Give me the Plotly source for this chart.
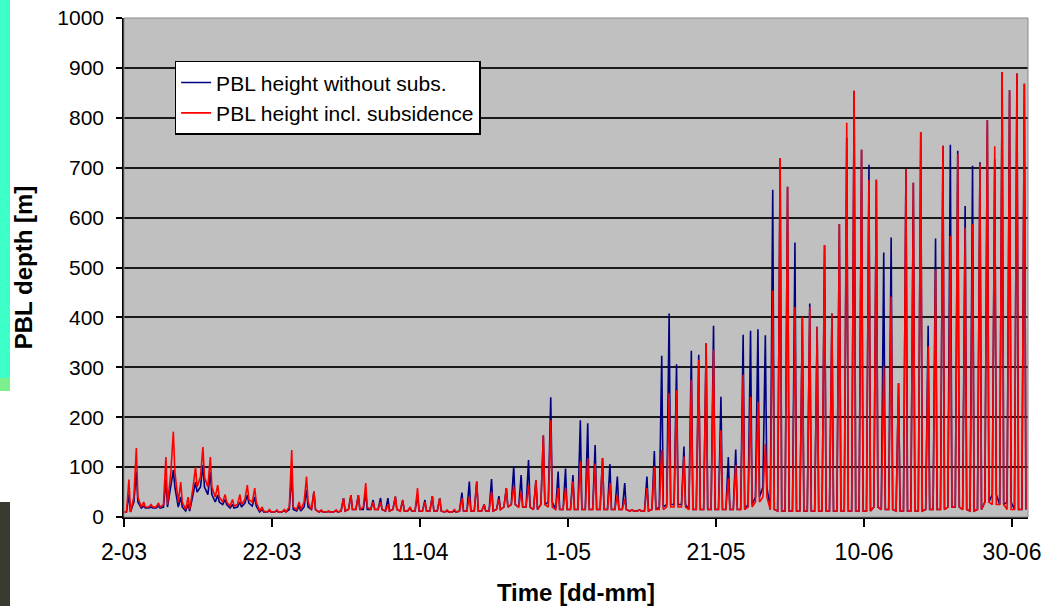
import plotly.graph_objects as go
from datetime import datetime, timedelta

# Daily afternoon peak values (m), one per day starting 2 March
red_peak = [75, 138, 30, 25, 28, 120, 171, 70, 40, 100,
            140, 120, 64, 45, 35, 45, 64, 58, 20, 15,
            14, 15, 134, 30, 81, 51, 14, 12, 14, 38,
            44, 44, 68, 30, 30, 25, 41, 34, 20, 58,
            30, 42, 38, 14, 15, 38, 41, 71, 25, 51,
            35, 58, 62, 51, 64, 74, 164, 194, 58, 58,
            71, 111, 118, 107, 118, 68, 45, 36, 14, 14,
            58, 101, 134, 248, 254, 121, 275, 315, 348, 335,
            174, 77, 104, 285, 241, 231, 146, 454, 719, 662,
            421, 401, 421, 381, 545, 408, 587, 790, 854, 736,
            676, 676, 302, 442, 268, 697, 670, 771, 342, 496,
            744, 563, 728, 580, 587, 707, 795, 743, 892, 855,
            889, 868]
blue_peak = [45, 91, 22, 20, 22, 75, 94, 40, 25, 70,
             104, 90, 44, 35, 25, 30, 44, 40, 15, 12,
             12, 13, 88, 22, 54, 51, 12, 11, 13, 38,
             44, 44, 50, 34, 38, 38, 41, 34, 18, 45,
             34, 42, 38, 12, 12, 49, 71, 71, 25, 76,
             42, 58, 101, 84, 114, 74, 164, 240, 91, 97,
             84, 194, 188, 144, 118, 106, 81, 68, 14, 14,
             81, 132, 323, 408, 306, 141, 333, 325, 348, 383,
             241, 120, 135, 365, 373, 376, 364, 656, 719, 662,
             550, 401, 428, 381, 545, 408, 587, 760, 854, 736,
             706, 676, 530, 560, 268, 697, 670, 771, 383, 558,
             744, 746, 734, 623, 704, 711, 795, 717, 892, 855,
             889, 868]
# Night-time (minimum) values (m)
red_night = [10, 40, 20, 20, 20, 25, 90, 30, 15, 60,
             80, 60, 40, 30, 22, 25, 35, 30, 12, 10,
             10, 10, 20, 15, 30, 15, 10, 10, 10, 12,
             15, 15, 20, 15, 15, 12, 15, 12, 12, 12,
             12, 12, 12, 10, 10, 12, 12, 12, 12, 12,
             15, 20, 25, 20, 20, 15, 25, 20, 15, 15,
             15, 15, 15, 15, 15, 15, 15, 15, 12, 12,
             12, 15, 15, 20, 20, 20, 15, 15, 15, 15,
             15, 15, 15, 15, 20, 30, 40, 15, 12, 12,
             12, 12, 12, 12, 12, 12, 12, 12, 12, 12,
             12, 20, 15, 15, 12, 12, 12, 12, 15, 15,
             15, 20, 20, 15, 12, 15, 30, 25, 25, 15,
             15, 15]
blue_night = [10, 30, 18, 18, 18, 20, 60, 20, 12, 50,
              60, 45, 30, 25, 18, 20, 28, 22, 10, 10,
              10, 10, 15, 12, 20, 15, 10, 10, 10, 12,
              15, 15, 15, 15, 15, 12, 15, 12, 12, 12,
              12, 12, 12, 10, 10, 12, 12, 12, 12, 12,
              15, 20, 25, 20, 20, 15, 25, 30, 15, 15,
              15, 15, 15, 15, 15, 15, 15, 15, 12, 12,
              12, 15, 20, 25, 25, 25, 15, 15, 15, 15,
              15, 15, 15, 15, 25, 40, 60, 15, 12, 12,
              12, 12, 12, 12, 12, 12, 12, 12, 12, 12,
              12, 20, 15, 15, 12, 12, 12, 12, 15, 15,
              15, 20, 20, 15, 12, 15, 30, 45, 25, 30,
              15, 15]

tick_vals = ["2005-03-02", "2005-03-22", "2005-04-11", "2005-05-01",
             "2005-05-21", "2005-06-10", "2005-06-30"]
tick_text = ["2-03", "22-03", "11-04", "1-05", "21-05", "10-06", "30-06"]

start = datetime(2005, 3, 2)


def build(peak, night):
    xs, ys = [start], [night[0]]
    for i in range(len(peak)):
        d = start + timedelta(days=i)
        xs += [d + timedelta(hours=8), d + timedelta(hours=16), d + timedelta(hours=21)]
        ys += [night[i], peak[i], night[i]]
    return xs, ys


bx, by = build(blue_peak, blue_night)
rx, ry = build(red_peak, red_night)

FONT = "Liberation Sans, Arial, sans-serif"

fig = go.Figure()
fig.add_trace(go.Scatter(x=bx, y=by, mode="lines", name="PBL height without subs.",
                         line=dict(color="#000080", width=1.6)))
fig.add_trace(go.Scatter(x=rx, y=ry, mode="lines", name="PBL height incl. subsidence",
                         line=dict(color="#FF0000", width=1.6)))

# slide background remnants at the left edge
shapes = [
    dict(type="rect", xref="paper", yref="paper", x0=-0.1372, x1=-0.1261,
         y0=0.2786, y1=1.04, fillcolor="#3CFFC8", line=dict(width=0), layer="below"),
    dict(type="rect", xref="paper", yref="paper", x0=-0.1372, x1=-0.1261,
         y0=0.2525, y1=0.2786, fillcolor="#7CF08C", line=dict(width=0), layer="below"),
    dict(type="rect", xref="paper", yref="paper", x0=-0.1372, x1=-0.1261,
         y0=-0.18, y1=0.030, fillcolor="#3B3A30", line=dict(width=0), layer="below"),
    dict(type="rect", xref="paper", yref="paper", x0=0, x1=1, y0=0, y1=1,
         line=dict(color="#8a8a8a", width=1), fillcolor="rgba(0,0,0,0)"),
]

fig.update_layout(
    width=1061, height=606,
    margin=dict(l=124, r=33, t=18, b=89, autoexpand=False),
    paper_bgcolor="white",
    plot_bgcolor="#C0C0C0",
    font=dict(family=FONT, color="black"),
    showlegend=True,
    legend=dict(x=0.056, y=0.914, xanchor="left", yanchor="top",
                bgcolor="white", bordercolor="black", borderwidth=1.5,
                font=dict(family=FONT, size=21, color="black"),
                tracegroupgap=0, itemwidth=30),
    shapes=shapes,
)
fig.update_xaxes(
    range=[start, start + timedelta(days=122.16)],
    tickvals=tick_vals, ticktext=tick_text,
    tickfont=dict(family=FONT, size=23, color="black"),
    ticks="outside", ticklen=8, tickcolor="black", tickwidth=1.5,
    ticklabelstandoff=6, automargin=False,
    showline=True, linecolor="black", linewidth=1.5,
    showgrid=False, zeroline=False,
    title=dict(text="<b>Time [dd-mm]</b>", font=dict(family=FONT, size=24, color="black"),
               standoff=22),
)
fig.update_yaxes(
    range=[0, 1000], tickvals=list(range(0, 1001, 100)),
    tickfont=dict(family=FONT, size=21, color="black"),
    ticks="outside", ticklen=6, tickcolor="black", tickwidth=1.5,
    ticklabelstandoff=8, automargin=False,
    showline=True, linecolor="black", linewidth=1.5,
    showgrid=True, gridcolor="#1a1a1a", gridwidth=1.5, zeroline=False,
    title=dict(text="<b>PBL depth [m]</b>", font=dict(family=FONT, size=24, color="black"),
               standoff=18),
)

fig.write_html("out.html")
